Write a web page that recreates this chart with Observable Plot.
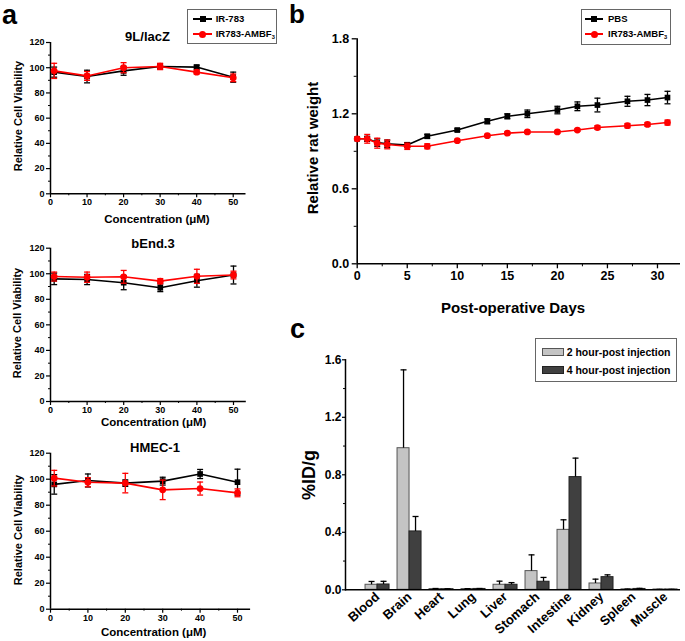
<!DOCTYPE html>
<html><head><meta charset="utf-8">
<script src="https://cdn.jsdelivr.net/npm/d3@7"></script>
<script src="https://cdn.jsdelivr.net/npm/@observablehq/plot@0.6"></script>
<style>
body{margin:0;background:#fff;}
#fig{position:relative;width:685px;height:641px;overflow:hidden;font-family:"Liberation Sans",Arial,sans-serif;font-weight:bold;color:#000;background:#fff;}
#fig svg.plotsvg{position:absolute;}
.t{position:absolute;white-space:nowrap;line-height:1;}
.c{transform:translate(-50%,-50%);}
.l{transform:translate(0,-50%);}
.r{transform:translate(-50%,-50%) rotate(-90deg);}
.box{position:absolute;border:1px solid #666;background:#fff;box-sizing:border-box;}
sub{font-size:0.6em;vertical-align:-0.25em;line-height:0;}
</style></head><body><div id="fig"></div>
<script>
// ---------- Panel a data (Relative Cell Viability, %) ----------
const concentrations = [1, 10, 20, 30, 40, 50];
const lacZ_IR783 = [96.5, 93, 97.5, 101, 100.5, 92.5];
const lacZ_IR783_err = [4, 5, 3.5, 2, 1.5, 4];
const lacZ_AMBF3 = [97.5, 93.5, 100, 101, 96.5, 92];
const lacZ_AMBF3_err = [6, 3.5, 4, 2.5, 1.5, 3];
const bEnd_IR783 = [96, 95.5, 93, 89, 94.5, 99];
const bEnd_IR783_err = [4.5, 4, 5.5, 3, 5, 7];
const bEnd_AMBF3 = [97.8, 97.3, 97.6, 94.2, 98, 99];
const bEnd_AMBF3_err = [3.5, 4, 5, 2, 5.5, 3];
const hmec_IR783 = [96, 99, 97, 98.5, 104, 97.7];
const hmec_IR783_err = [7.5, 5, 2.5, 3, 3.5, 10];
const hmec_AMBF3 = [100.8, 97.7, 97, 91.8, 92.8, 89.5];
const hmec_AMBF3_err = [6, 3.5, 7.5, 7.5, 5, 3];
const aTicksY = [0, 20, 40, 60, 80, 100, 120];
const aMinorY = [10, 30, 50, 70, 90, 110];
const aTicksX = [0, 10, 20, 30, 40, 50];
const aMinorX = [5, 15, 25, 35, 45];

// ---------- Panel b data (Relative rat weight) ----------
const days = [0, 1, 2, 3, 5, 7, 10, 13, 15, 17, 20, 22, 24, 27, 29, 31];
const pbs = [1.00, 1.00, 0.97, 0.96, 0.95, 1.02, 1.07, 1.14, 1.18, 1.20, 1.23, 1.26, 1.27, 1.30, 1.31, 1.33];
const pbsErr = [0, 0.02, 0.03, 0.03, 0.02, 0.015, 0.01, 0.02, 0.02, 0.03, 0.03, 0.035, 0.055, 0.04, 0.045, 0.05];
const ambf = [1.00, 1.00, 0.965, 0.955, 0.94, 0.94, 0.985, 1.025, 1.045, 1.055, 1.055, 1.07, 1.09, 1.105, 1.115, 1.13];
const ambfErr = [0, 0.035, 0.04, 0.035, 0.025, 0.02, 0.01, 0.01, 0.01, 0.01, 0.01, 0.01, 0.015, 0.017, 0.015, 0.02];
const bTicksY = [0, 0.6, 1.2, 1.8];
const bMinorY = [0.3, 0.9, 1.5];
const bTicksX = [0, 5, 10, 15, 20, 25, 30];
const bMinorX = [2.5, 7.5, 12.5, 17.5, 22.5, 27.5];

// ---------- Panel c data (%ID/g) ----------
const organs = ["Blood", "Brain", "Heart", "Lung", "Liver", "Stomach", "Intestine", "Kidney", "Spleen", "Muscle"];
const hour2 = [0.035, 0.985, 0.005, 0.005, 0.035, 0.13, 0.417, 0.044, 0.003, 0.002];
const hour2Err = [0.023, 0.545, 0.004, 0.003, 0.025, 0.113, 0.07, 0.03, 0.002, 0.001];
const hour4 = [0.037, 0.406, 0.004, 0.006, 0.035, 0.056, 0.784, 0.088, 0.006, 0.002];
const hour4Err = [0.022, 0.104, 0.003, 0.003, 0.015, 0.03, 0.132, 0.016, 0.004, 0.001];
const cTicksY = [0, 0.4, 0.8, 1.2, 1.6];
const cMinorY = [0.2, 0.6, 1.0, 1.4];

const FONT = '"Liberation Sans", Arial, sans-serif';
const fig = document.getElementById("fig");
const capSymbol = {draw(ctx, size) { const r = Math.sqrt(size / Math.PI); ctx.moveTo(-r, 0); ctx.lineTo(r, 0); }};

function place(svg, left, top) {
  svg.classList.add("plotsvg");
  svg.style.left = left + "px";
  svg.style.top = top + "px";
  fig.appendChild(svg);
}
function txt(html, x, y, size, cls) {
  const d = document.createElement("div");
  d.className = "t " + cls;
  d.style.left = x + "px"; d.style.top = y + "px"; d.style.fontSize = size + "px";
  d.innerHTML = html;
  fig.appendChild(d);
  return d;
}
function seriesMarks(rows, color, symbol, r) {
  return [
    Plot.ruleX(rows, {x: "x", y1: d => d.v - d.e, y2: d => d.v + d.e, stroke: color, strokeWidth: 1.3}),
    Plot.dot(rows, {x: "x", y: d => d.v + d.e, symbol: capSymbol, r: 3, stroke: color, strokeWidth: 1.3, fill: "none"}),
    Plot.dot(rows, {x: "x", y: d => d.v - d.e, symbol: capSymbol, r: 3, stroke: color, strokeWidth: 1.3, fill: "none"}),
    Plot.line(rows, {x: "x", y: "v", stroke: color, strokeWidth: 1.6}),
    Plot.dot(rows, {x: "x", y: "v", symbol, r, fill: color, stroke: "none"})
  ];
}
function toRows(xs, vs, es) { return xs.map((x, i) => ({x, v: vs[i], e: es[i]})); }

function cellPanel(top, height, mt, mb, mr, ir, irE, am, amE) {
  const svg = Plot.plot({
    width: 260, height, marginLeft: 50, marginRight: mr, marginTop: mt, marginBottom: mb,
    x: {domain: [0, 53.5], label: null}, y: {domain: [0, 120], label: null},
    style: {fontFamily: FONT, fontSize: "9px", fontWeight: "bold", background: "none", color: "#000"},
    marks: [
      Plot.axisY({ticks: aTicksY, tickSize: 4, tickPadding: 2, label: null, strokeWidth: 1.2}),
      Plot.axisY({ticks: aMinorY, tickSize: 2, fill: "none", label: null, strokeWidth: 1}),
      Plot.axisX({ticks: aTicksX, tickSize: 4, tickPadding: 1, label: null, strokeWidth: 1.2}),
      Plot.axisX({ticks: aMinorX, tickSize: 2, fill: "none", label: null, strokeWidth: 1}),
      Plot.ruleX([0], {strokeWidth: 1.5}),
      Plot.ruleY([0], {strokeWidth: 1.5}),
      ...seriesMarks(toRows(concentrations, ir, irE), "#000", "square", 3.2),
      ...seriesMarks(toRows(concentrations, am, amE), "#ff0000", "circle", 3.4)
    ]
  });
  place(svg, 0, top);
}

cellPanel(0, 215, 42, 21.7, 14.5, lacZ_IR783, lacZ_IR783_err, lacZ_AMBF3, lacZ_AMBF3_err);
cellPanel(210, 210, 37.7, 19, 14.2, bEnd_IR783, bEnd_IR783_err, bEnd_AMBF3, bEnd_AMBF3_err);
cellPanel(425, 216, 27.7, 32.3, 9.9, hmec_IR783, hmec_IR783_err, hmec_AMBF3, hmec_AMBF3_err);

// ---------- Panel b ----------
{
  const svg = Plot.plot({
    width: 385, height: 295, marginLeft: 56.7, marginRight: 5, marginTop: 38.3, marginBottom: 31.7,
    x: {domain: [0, 32.3], label: null}, y: {domain: [0, 1.8], label: null},
    style: {fontFamily: FONT, fontSize: "12.5px", fontWeight: "bold", background: "none", color: "#000"},
    marks: [
      Plot.axisY({ticks: bTicksY, tickFormat: d3.format(".1f"), tickSize: 5, tickPadding: 3, label: null, strokeWidth: 1.3}),
      Plot.axisY({ticks: bMinorY, tickSize: 3, fill: "none", label: null}),
      Plot.axisX({ticks: bTicksX, tickSize: 5, tickPadding: 2, label: null, strokeWidth: 1.3}),
      Plot.axisX({ticks: bMinorX, tickSize: 3, fill: "none", label: null}),
      Plot.ruleX([0], {strokeWidth: 1.6}),
      Plot.ruleY([0], {strokeWidth: 1.6}),
      ...seriesMarks(toRows(days, pbs, pbsErr), "#000", "square", 3.2),
      ...seriesMarks(toRows(days, ambf, ambfErr), "#ff0000", "circle", 3.4)
    ]
  });
  place(svg, 300, 0);
}

// ---------- Panel c ----------
{
  const rows2 = organs.map((o, i) => ({o, v: hour2[i], e: hour2Err[i]}));
  const rows4 = organs.map((o, i) => ({o, v: hour4[i], e: hour4Err[i]}));
  const svg = Plot.plot({
    width: 385, height: 321, marginLeft: 45, marginRight: 5, marginTop: 39.3, marginBottom: 51.7,
    x: {type: "band", domain: organs, paddingInner: 0.25, paddingOuter: 0.36, align: 0.87, round: false, label: null},
    y: {domain: [0, 1.6], label: null},
    style: {fontFamily: FONT, fontSize: "12px", fontWeight: "bold", background: "none", color: "#000"},
    marks: [
      Plot.barY(rows2, {x: "o", y: "v", insetRight: 12, fill: "#c4c4c4", stroke: "#555", strokeWidth: 1}),
      Plot.barY(rows4, {x: "o", y: "v", insetLeft: 12, fill: "#404040", stroke: "#222", strokeWidth: 1}),
      Plot.ruleX(rows2, {x: "o", y1: "v", y2: d => d.v + d.e, dx: -6, stroke: "#000", strokeWidth: 1.3}),
      Plot.ruleX(rows4, {x: "o", y1: "v", y2: d => d.v + d.e, dx: 6, stroke: "#000", strokeWidth: 1.3}),
      Plot.dot(rows2, {x: "o", y: d => d.v + d.e, dx: -6, symbol: capSymbol, r: 3, stroke: "#000", strokeWidth: 1.3, fill: "none"}),
      Plot.dot(rows4, {x: "o", y: d => d.v + d.e, dx: 6, symbol: capSymbol, r: 3, stroke: "#000", strokeWidth: 1.3, fill: "none"}),
      Plot.axisY({ticks: cTicksY, tickFormat: d3.format(".1f"), tickSize: 3, tickPadding: 1, label: null, strokeWidth: 1.2}),
      Plot.axisY({ticks: cMinorY, tickSize: 2, fill: "none", label: null}),
      Plot.axisX({tickSize: 0, tickRotate: -42, tickPadding: 5, label: null, fontSize: 13}),
      Plot.ruleY([0], {strokeWidth: 1.5}),
      Plot.frame({anchor: "left", strokeWidth: 1.5})
    ]
  });
  place(svg, 300, 320);
}

// ---------- Text: panel letters, titles, axis labels ----------
txt("a", 2, 2, 27, "");
txt("b", 289, 1, 26, "");
txt("c", 290, 316, 27, "");

txt("9L/lacZ", 147.5, 36, 13, "c");
txt("bEnd.3", 153, 243.3, 13, "c");
txt("HMEC-1", 155, 447.3, 13, "c");
txt("Concentration (μM)", 157, 220, 11.5, "c");
txt("Concentration (μM)", 153.7, 423.3, 11.5, "c");
txt("Concentration (μM)", 153.7, 632.7, 11.5, "c");
txt("Relative Cell Viability", 17.7, 115.8, 11, "r");
txt("Relative Cell Viability", 17.3, 322.5, 11, "r");
txt("Relative Cell Viability", 17.7, 529.7, 11, "r");

txt("Relative rat weight", 312, 148, 15, "r");
txt("Post-operative Days", 513, 307, 15, "c");
txt("%ID/g", 309, 475, 18, "r");

// ---------- Legends ----------
function box(x, y, w, h) {
  const d = document.createElement("div");
  d.className = "box";
  Object.assign(d.style, {left: x + "px", top: y + "px", width: w + "px", height: h + "px"});
  fig.appendChild(d);
}
function lineKey(x1, x2, y, color, square) {
  const l = document.createElement("div");
  Object.assign(l.style, {position: "absolute", left: x1 + "px", top: (y - 1) + "px", width: (x2 - x1) + "px", height: "2px", background: color});
  fig.appendChild(l);
  const m = document.createElement("div");
  const s = square ? 6 : 7;
  Object.assign(m.style, {position: "absolute", left: ((x1 + x2) / 2 - s / 2) + "px", top: (y - s / 2) + "px", width: s + "px", height: s + "px", background: color, borderRadius: square ? "0" : "50%"});
  fig.appendChild(m);
}
function swatch(x, y, w, h, fill, stroke) {
  const d = document.createElement("div");
  Object.assign(d.style, {position: "absolute", left: x + "px", top: (y - h / 2) + "px", width: w + "px", height: h + "px", background: fill, border: "1px solid " + stroke, boxSizing: "border-box"});
  fig.appendChild(d);
}
const legendA = ["IR-783", "IR783-AMBF<sub>3</sub>"];
const legendB = ["PBS", "IR783-AMBF<sub>3</sub>"];
const legendC = ["2 hour-post injection", "4 hour-post injection"];

box(187, 8.5, 90, 35.5);
lineKey(193, 212, 19, "#000", true);
lineKey(193, 212, 34.3, "#ff0000", false);
txt(legendA[0], 215.7, 19, 9.5, "l");
txt(legendA[1], 215.7, 34.3, 9.5, "l");

box(581, 9, 90, 35.5);
lineKey(585, 603, 19.3, "#000", true);
lineKey(585, 603, 34.3, "#ff0000", false);
txt(legendB[0], 608, 19.3, 9.5, "l");
txt(legendB[1], 608, 34.3, 9.5, "l");

box(535, 338, 142, 44);
swatch(541.7, 351.7, 22, 8, "#c4c4c4", "#555");
swatch(541.7, 370, 22, 8, "#404040", "#222");
txt(legendC[0], 566.7, 351.7, 10.5, "l");
txt(legendC[1], 566.7, 370, 10.5, "l");
</script></body></html>
